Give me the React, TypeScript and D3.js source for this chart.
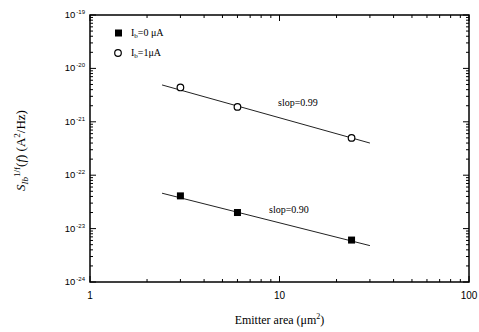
import React from "react";
import * as d3 from "d3";

// emitter areas (µm²) and measured noise values
const areas = [3, 6, 24];
const ib0 = [4.1e-23, 2.0e-23, 6.1e-24];
const ib1 = [4.4e-21, 1.9e-21, 5.0e-22];

// fitted power-law lines (end points)
const fitX = [2.4, 30];
const fit0 = [4.6e-23, 4.8e-24];
const fit1 = [4.9e-21, 4.0e-22];

const xMajor = [1, 10, 100];
const yExp = [-19, -20, -21, -22, -23, -24];

const W = 479;
const H = 332;
const margin = { left: 90, right: 10, top: 15, bottom: 50 };

const App: React.FC = () => {
  const x = d3.scaleLog().domain([1, 100]).range([margin.left, W - margin.right]);
  const y = d3.scaleLog().domain([1e-24, 1e-19]).range([H - margin.bottom, margin.top]);
  const [x0, x1] = x.range();
  const [y0, y1] = y.range();

  const xTicks = x.ticks();
  const yTicks = y.ticks();
  const isMajor = (v: number) => Math.abs(Math.log10(v) - Math.round(Math.log10(v))) < 1e-6;

  const line = d3
    .line<[number, number]>()
    .x((d) => x(d[0]))
    .y((d) => y(d[1]));

  const sans = "Liberation Sans, Arial, sans-serif";
  const serif = "Liberation Serif, Times New Roman, serif";

  return (
    <svg width={W} height={H} style={{ position: "absolute", left: 0, top: 0, background: "#fff" }}>
      {/* ticks, inside on all four sides */}
      {xTicks.map((t, i) => {
        const len = isMajor(t) ? 6 : 3;
        return (
          <g key={"xt" + i} stroke="#000" strokeWidth={1}>
            <line x1={x(t)} x2={x(t)} y1={y0} y2={y0 - len} />
            <line x1={x(t)} x2={x(t)} y1={y1} y2={y1 + len} />
          </g>
        );
      })}
      {yTicks.map((t, i) => {
        const len = isMajor(t) ? 6 : 3;
        return (
          <g key={"yt" + i} stroke="#000" strokeWidth={1}>
            <line x1={x0} x2={x0 + len} y1={y(t)} y2={y(t)} />
            <line x1={x1} x2={x1 - len} y1={y(t)} y2={y(t)} />
          </g>
        );
      })}
      <rect x={x0} y={y1} width={x1 - x0} height={y0 - y1} fill="none" stroke="#000" strokeWidth={1.5} />

      {/* tick labels */}
      {xMajor.map((t) => (
        <text key={"xl" + t} x={x(t)} y={y0 + 17} textAnchor="middle" fontFamily={sans} fontSize={10}>
          {t}
        </text>
      ))}
      {yExp.map((e) => (
        <text key={"yl" + e} x={x0 - 5} y={y(Math.pow(10, e)) + 3} textAnchor="end" fontFamily={sans} fontSize={9.5}>
          10
          <tspan fontSize={6} dy={-4} dx={1}>
            {e}
          </tspan>
        </text>
      ))}

      {/* axis titles */}
      <text x={(x0 + x1) / 2} y={H - 8} textAnchor="middle" fontFamily={serif} fontSize={12}>
        Emitter area (μm
        <tspan fontSize={8} dy={-5}>2</tspan>
        <tspan dy={5}>)</tspan>
      </text>
      <text
        transform={`translate(25,${(y0 + y1) / 2 + 2}) rotate(-90)`}
        textAnchor="middle"
        fontFamily={serif}
        fontSize={13}
      >
        <tspan fontStyle="italic">S</tspan>
        <tspan fontSize={9} dy={3} fontStyle="italic">Ib</tspan>
        <tspan fontSize={9} dy={-8}>1/f</tspan>
        <tspan dy={5}>(</tspan>
        <tspan fontStyle="italic">f</tspan>
        <tspan>) (A</tspan>
        <tspan fontSize={9} dy={-5}>2</tspan>
        <tspan dy={5}>/Hz)</tspan>
      </text>

      {/* fitted lines */}
      <path d={line(fitX.map((v, i) => [v, fit1[i]]) as [number, number][]) ?? ""} fill="none" stroke="#222" strokeWidth={1} />
      <path d={line(fitX.map((v, i) => [v, fit0[i]]) as [number, number][]) ?? ""} fill="none" stroke="#222" strokeWidth={1} />

      {/* data */}
      {areas.map((a, i) => (
        <rect key={"s" + i} x={x(a) - 3.5} y={y(ib0[i]) - 3.5} width={7} height={7} fill="#000" />
      ))}
      {areas.map((a, i) => (
        <circle key={"c" + i} cx={x(a)} cy={y(ib1[i])} r={3.3} fill="#fff" stroke="#000" strokeWidth={1.2} />
      ))}

      {/* slope labels */}
      <text x={278} y={106} fontFamily={serif} fontSize={10}>slop=0.99</text>
      <text x={269} y={213} fontFamily={serif} fontSize={10}>slop=0.90</text>

      {/* legend */}
      <rect x={115} y={29.5} width={7} height={7} fill="#000" />
      <text x={131} y={36} fontFamily={serif} fontSize={10}>
        I<tspan fontSize={7} dy={2}>b</tspan>
        <tspan dy={-2}>=0 μA</tspan>
      </text>
      <circle cx={118} cy={53} r={3.3} fill="#fff" stroke="#000" strokeWidth={1.2} />
      <text x={131} y={56} fontFamily={serif} fontSize={10}>
        I<tspan fontSize={7} dy={2}>b</tspan>
        <tspan dy={-2}>=1μA</tspan>
      </text>
    </svg>
  );
};

export default App;
